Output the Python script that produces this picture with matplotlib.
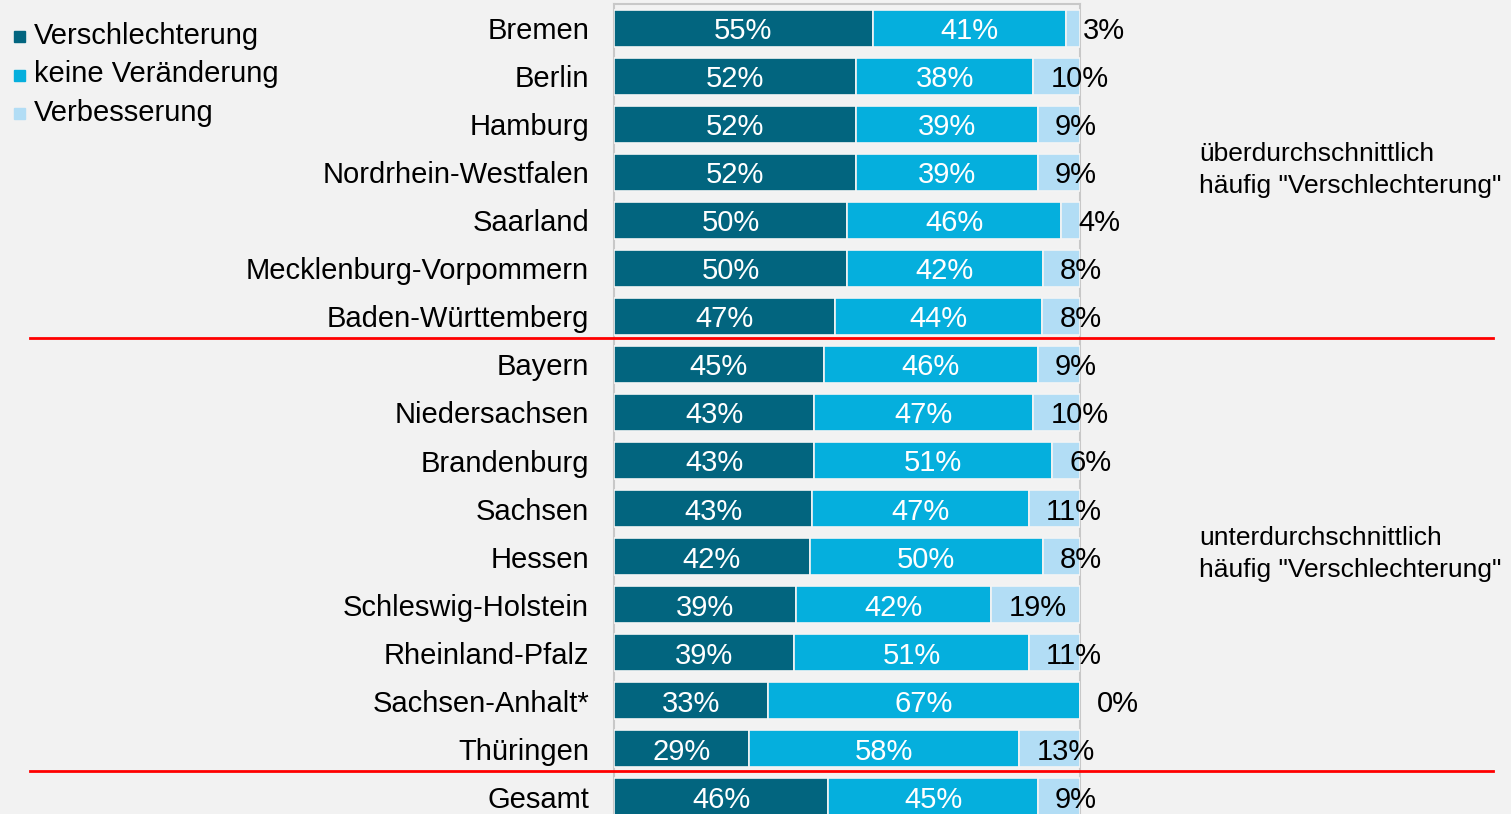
import matplotlib
matplotlib.use('Agg')
from matplotlib import pyplot as plt
from matplotlib import transforms
import numpy as np

plt.rcParams['font.family'] = ['Liberation Sans', 'DejaVu Sans']

laender = ['Bremen', 'Berlin', 'Hamburg', 'Nordrhein-Westfalen', 'Saarland',
           'Mecklenburg-Vorpommern', 'Baden-Württemberg', 'Bayern', 'Niedersachsen',
           'Brandenburg', 'Sachsen', 'Hessen', 'Schleswig-Holstein', 'Rheinland-Pfalz',
           'Sachsen-Anhalt*', 'Thüringen', 'Gesamt']
verschlechterung = [55, 52, 52, 52, 50, 50, 47, 45, 43, 43, 43, 42, 39, 39, 33, 29, 46]
keine_veraenderung = [41, 38, 39, 39, 46, 42, 44, 46, 47, 51, 47, 50, 42, 51, 67, 58, 45]
verbesserung = [3, 10, 9, 9, 4, 8, 8, 9, 10, 6, 11, 8, 19, 11, 0, 13, 9]

serien = ['Verschlechterung', 'keine Veränderung', 'Verbesserung']
farben = ['#02657f', '#05afdd', '#b2ddf5']
bg = '#f2f2f2'

W, H = 1511, 814
fig = plt.figure(figsize=(W / 100, H / 100), dpi=100, facecolor=bg)
# axes box in pixels: x 614..1080, y 4..821 (last row runs off the bottom edge)
ax = fig.add_axes([614 / W, (H - 821) / H, (1080 - 614) / W, 817 / H])
ax.set_facecolor(bg)

werte = np.array([verschlechterung, keine_veraenderung, verbesserung], dtype=float)
# normalise each row so the bars fill the full width
anteile = werte / werte.sum(axis=0)
y = np.arange(len(laender))
links = np.zeros(len(laender))
dy = 0.06  # nudge labels down so the digits sit centred in the bar
for i in range(3):
    ax.barh(y, anteile[i], left=links, height=0.77, color=farben[i],
            edgecolor='#f4f4f4', linewidth=1.2, zorder=3)
    for k in range(len(laender)):
        txt = '%d%%' % werte[i, k]
        if i < 2:
            ax.text(links[k] + anteile[i, k] / 2, y[k] + dy, txt, ha='center', va='center',
                    color='white', fontsize=21, zorder=4)
        else:
            ax.text(links[k] + 17 / 466, y[k] + dy, txt, ha='left', va='center',
                    color='black', fontsize=21, zorder=4, clip_on=False)
    links += anteile[i]

ax.set_xlim(0, 1)
ax.set_ylim(len(laender) - 0.5, -0.5)
ax.set_xticks([])
ax.set_yticks(y)
ax.set_yticklabels(laender, fontsize=21)
ax.tick_params(axis='y', length=0, pad=18)
for s in ['left', 'right', 'top']:
    ax.spines[s].set_color('#c8c8c8')
    ax.spines[s].set_linewidth(1.5)
ax.spines['bottom'].set_visible(False)

# red separators across the whole figure
trans = transforms.blended_transform_factory(fig.transFigure, ax.transData)
for ys in [6.45, 15.45]:
    ax.plot([30 / W, 1493 / W], [ys, ys], color='#ff0000', linewidth=2,
            transform=trans, clip_on=False, zorder=5)

# legend
for i, name in enumerate(serien):
    yy = 1 - (36 + i * 38.5) / H
    fig.patches.append(plt.Rectangle((14 / W, yy - 6 / H), 11 / W, 11 / H,
                                     transform=fig.transFigure, color=farben[i]))
    fig.text(34 / W, yy, name, fontsize=21, va='center', ha='left')

fig.text(1199 / W, 1 - 170 / H, 'überdurchschnittlich\nhäufig "Verschlechterung"',
         fontsize=19, va='center', ha='left', linespacing=1.4)
fig.text(1199 / W, 1 - 554 / H, 'unterdurchschnittlich\nhäufig "Verschlechterung"',
         fontsize=19, va='center', ha='left', linespacing=1.4)

fig.savefig('out.png', dpi=100, facecolor=bg)
